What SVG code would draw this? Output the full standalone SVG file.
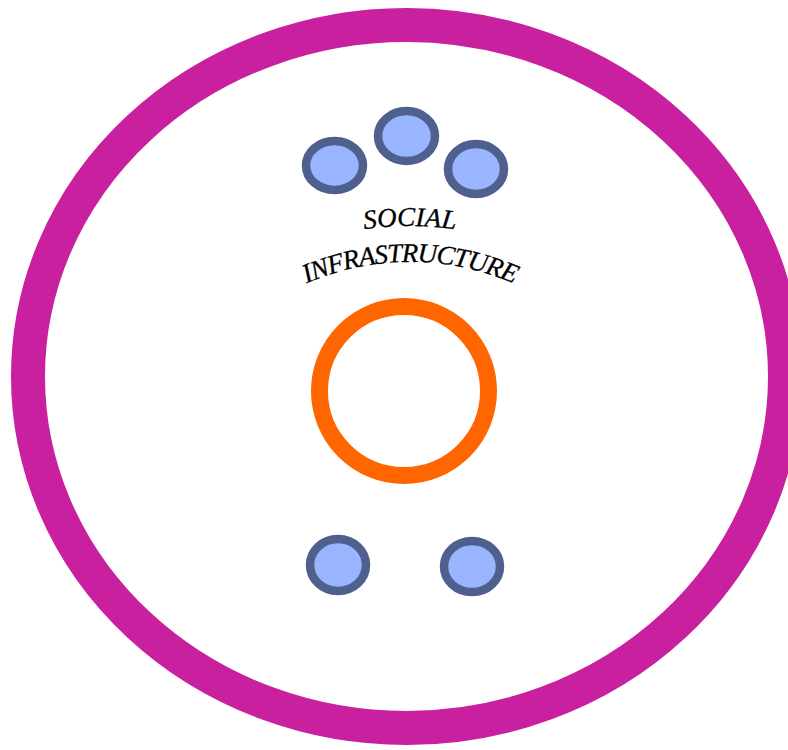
<svg xmlns="http://www.w3.org/2000/svg" xmlns:xlink="http://www.w3.org/1999/xlink" width="788" height="750" viewBox="0 0 788 750">
<style>
.ring{fill:none;stroke:#c8209e;stroke-width:34}
.core{fill:none;stroke:#ff6600;stroke-width:17}
.dot{fill:#99b5ff;stroke:#4f5f8e;stroke-width:8.5}
.lbl{font-family:"Liberation Serif","Times New Roman",serif;font-style:italic;font-size:27px;fill:#000;stroke:#000;stroke-width:0.3}
</style>
<defs>
<path id="arc1" d="M 260 265.1 A 307 307 0 0 1 560 265.1"/>
<path id="arc2" d="M 250 317 A 260 260 0 0 1 570 317"/>
</defs>
<rect width="788" height="750" fill="#fff"/>
<g id="outer"><ellipse class="ring" cx="406.5" cy="376.5" rx="378.5" ry="351.5"/></g>
<g id="center"><circle class="core" cx="404" cy="391" r="84.5"/></g>
<g id="dot1"><ellipse class="dot" cx="334.5" cy="165.5" rx="28.5" ry="24.5"/></g>
<g id="dot2"><ellipse class="dot" cx="406.5" cy="136" rx="28.5" ry="25"/></g>
<g id="dot3"><ellipse class="dot" cx="476" cy="169" rx="28" ry="25"/></g>
<g id="dot4"><ellipse class="dot" cx="338" cy="565" rx="28" ry="26"/></g>
<g id="dot5"><ellipse class="dot" cx="472" cy="566.5" rx="28" ry="25.5"/></g>
<g id="label">
<text class="lbl"><textPath xlink:href="#arc1" href="#arc1" startOffset="50%" text-anchor="middle">SOCIAL</textPath></text>
<text class="lbl" letter-spacing="-1"><textPath xlink:href="#arc2" href="#arc2" startOffset="50%" text-anchor="middle">INFRASTRUCTURE</textPath></text>
</g>
<g id="connectors"/>
</svg>
